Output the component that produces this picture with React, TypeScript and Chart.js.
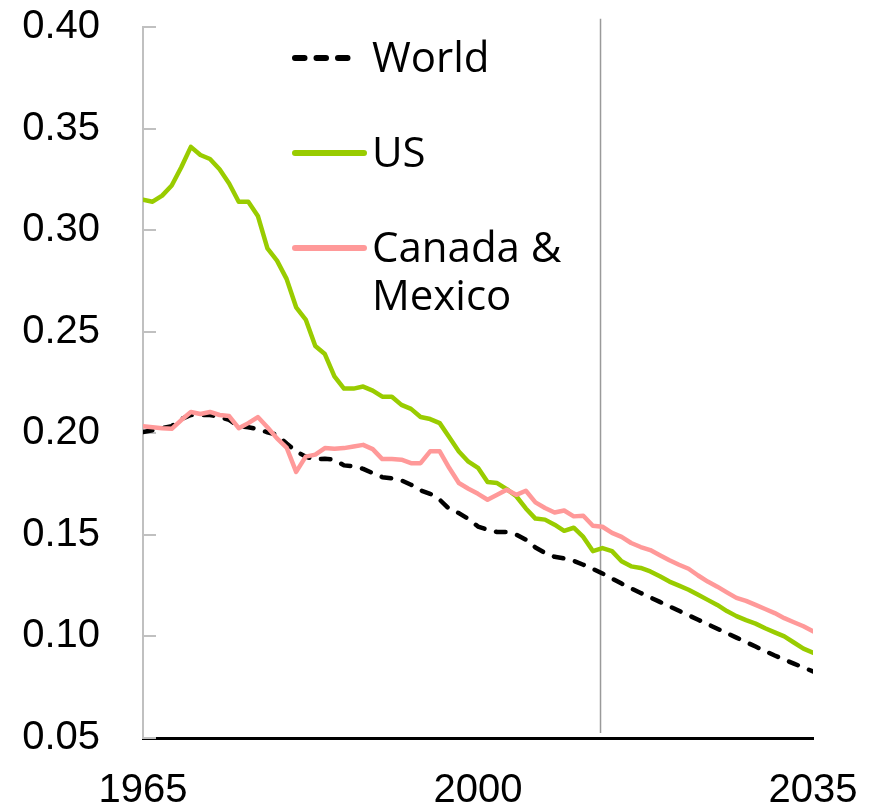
import React, { useEffect, useRef } from 'react';
import { Chart, registerables } from 'chart.js';

Chart.register(...registerables);

const YEARS = [
  1965, 1966, 1967, 1968, 1969, 1970, 1971, 1972, 1973, 1974,
  1975, 1976, 1977, 1978, 1979, 1980, 1981, 1982, 1983, 1984,
  1985, 1986, 1987, 1988, 1989, 1990, 1991, 1992, 1993, 1994,
  1995, 1996, 1997, 1998, 1999, 2000, 2001, 2002, 2003, 2004,
  2005, 2006, 2007, 2008, 2009, 2010, 2011, 2012, 2013, 2014,
  2015, 2016, 2017, 2018, 2019, 2020, 2021, 2022, 2023, 2024,
  2025, 2026, 2027, 2028, 2029, 2030, 2031, 2032, 2033, 2034, 2035,
];

const WORLD = [
  0.2006, 0.2015, 0.2025, 0.2035, 0.207, 0.209, 0.209, 0.209, 0.208, 0.2066,
  0.2034, 0.203, 0.2021, 0.2005, 0.1993, 0.195, 0.1911, 0.1885, 0.187, 0.1875,
  0.187, 0.1842, 0.1837, 0.1825, 0.1804, 0.1784, 0.1778, 0.1768, 0.1747, 0.1719,
  0.1702, 0.1673, 0.1627, 0.1607, 0.1578, 0.1541, 0.1525, 0.1514, 0.1514, 0.1501,
  0.1476, 0.1438, 0.1411, 0.1392, 0.1384, 0.1372, 0.1353, 0.1332, 0.131, 0.1285,
  0.126, 0.1236, 0.1214, 0.1192, 0.117, 0.1148, 0.1126, 0.1104, 0.1082, 0.106,
  0.1038, 0.1016, 0.0994, 0.0972, 0.095, 0.0928, 0.0906, 0.0886, 0.0866, 0.0847, 0.0828,
];

const US = [
  0.315, 0.314, 0.317, 0.322, 0.331, 0.341, 0.337, 0.335, 0.33, 0.323,
  0.314, 0.314, 0.307, 0.291, 0.285, 0.276, 0.262, 0.256, 0.243, 0.239,
  0.228, 0.222, 0.222, 0.223, 0.221, 0.218, 0.218, 0.214, 0.212, 0.208,
  0.207, 0.205, 0.198, 0.191, 0.186, 0.183, 0.176, 0.1755, 0.1725, 0.169,
  0.163, 0.158, 0.1575, 0.155, 0.152, 0.1535, 0.149, 0.142, 0.1435, 0.142,
  0.137, 0.1345, 0.1337, 0.132, 0.1296, 0.127, 0.125, 0.123, 0.1205, 0.118,
  0.1155, 0.1125, 0.11, 0.108, 0.1063, 0.104, 0.102, 0.1, 0.097, 0.094, 0.092,
];

const CANADA_MEXICO = [
  0.2035, 0.203, 0.2025, 0.2022, 0.2065, 0.2105, 0.2095, 0.2105, 0.209, 0.2085,
  0.2025, 0.205, 0.208, 0.203, 0.1975, 0.193, 0.181, 0.1885, 0.1895, 0.1927,
  0.1924, 0.1927, 0.1935, 0.1943, 0.1922, 0.1873, 0.1873, 0.187, 0.1853, 0.1853,
  0.1911, 0.1911, 0.1829, 0.1755, 0.1727, 0.1702, 0.1673, 0.1697, 0.1722, 0.1697,
  0.1717, 0.166, 0.1632, 0.161, 0.162, 0.1591, 0.1594, 0.1545, 0.154, 0.151,
  0.149, 0.146, 0.144, 0.1425, 0.14, 0.1375, 0.1353, 0.1333, 0.13, 0.127,
  0.1245, 0.1217, 0.119, 0.1175, 0.1155, 0.1135, 0.1115, 0.109, 0.107, 0.105, 0.1025,
];

const SERIES_LABELS = ['World', 'US', 'Canada &\nMexico'];
const X_TICKS = [1965, 2000, 2035];
const Y_TICKS = [0.05, 0.1, 0.15, 0.2, 0.25, 0.3, 0.35, 0.4];
const FORECAST_START = 2012.8;
const FORECAST_LINE_TOP = 0.404;
const FORECAST_LINE_BOTTOM = 0.0525;

const toPoints = (vals: number[]) => vals.map((v, i) => ({ x: YEARS[i], y: v }));

const innerTicksPlugin = {
  id: 'innerTicks',
  beforeDatasetsDraw(chart: any) {
    const { ctx, chartArea, scales } = chart;
    const y = scales.y;
    ctx.save();
    ctx.strokeStyle = '#c0c0c0';
    ctx.lineWidth = 2;
    Y_TICKS.forEach((v) => {
      const py = Math.round(y.getPixelForValue(v));
      ctx.beginPath();
      ctx.moveTo(chartArea.left, py);
      ctx.lineTo(chartArea.left + 13, py);
      ctx.stroke();
    });
    const px = scales.x.getPixelForValue(FORECAST_START);
    ctx.strokeStyle = '#9a9a9a';
    ctx.lineWidth = 1.5;
    ctx.beginPath();
    ctx.moveTo(px, y.getPixelForValue(FORECAST_LINE_TOP));
    ctx.lineTo(px, y.getPixelForValue(FORECAST_LINE_BOTTOM));
    ctx.stroke();
    ctx.restore();
  },
};

const legendPlugin = {
  id: 'customLegend',
  afterDraw(chart: any) {
    const { ctx } = chart;
    const rows = [
      { idx: 0, lineY: 58, x0: 295, x1: 351 },
      { idx: 1, lineY: 153, x0: 295, x1: 364 },
      { idx: 2, lineY: 248, x0: 295, x1: 364 },
    ];
    ctx.save();
    rows.forEach((r) => {
      const ds = chart.data.datasets[r.idx];
      ctx.strokeStyle = ds.borderColor;
      ctx.lineWidth = 6;
      ctx.lineCap = 'round';
      ctx.setLineDash(ds.borderDash || []);
      ctx.beginPath();
      ctx.moveTo(r.x0, r.lineY);
      ctx.lineTo(r.x1, r.lineY);
      ctx.stroke();
      ctx.setLineDash([]);
      ctx.fillStyle = '#000';
      ctx.font = '42px "Open Sans"';
      ctx.textAlign = 'left';
      ctx.textBaseline = 'alphabetic';
      const lines = String(ds.label).split('\n');
      lines.forEach((t, k) => {
        ctx.fillText(t, 372, r.lineY + 14 + k * 48);
      });
    });
    ctx.restore();
  },
};

export default function App() {
  const ref = useRef<HTMLCanvasElement | null>(null);

  useEffect(() => {
    if (!ref.current) return;
    const tickFont = { family: '"Liberation Sans", Arial, sans-serif', size: 40 };
    const chart = new Chart(ref.current, {
      type: 'line',
      data: {
        datasets: [
          {
            label: SERIES_LABELS[0],
            data: toPoints(WORLD),
            borderColor: '#000000',
            borderWidth: 4.5,
            borderDash: [9.5, 12],
            borderCapStyle: 'round',
            borderJoinStyle: 'round',
            pointRadius: 0,
            tension: 0,
            order: 2,
          },
          {
            label: SERIES_LABELS[1],
            data: toPoints(US),
            borderColor: '#99cc00',
            borderWidth: 4.5,
            borderCapStyle: 'round',
            borderJoinStyle: 'round',
            pointRadius: 0,
            tension: 0,
            order: 1,
          },
          {
            label: SERIES_LABELS[2],
            data: toPoints(CANADA_MEXICO),
            borderColor: '#ff9999',
            borderWidth: 4.5,
            borderCapStyle: 'round',
            borderJoinStyle: 'round',
            pointRadius: 0,
            tension: 0,
            order: 0,
          },
        ],
      },
      options: {
        animation: false,
        responsive: false,
        maintainAspectRatio: false,
        layout: { padding: { top: 27, right: 62, bottom: 0, left: 0 } },
        plugins: {
          legend: { display: false },
          tooltip: { enabled: false },
        },
        scales: {
          x: {
            type: 'linear',
            min: 1965,
            max: 2035,
            grid: {
              display: true,
              drawOnChartArea: false,
              drawTicks: true,
              tickLength: 29,
              tickColor: 'rgba(0,0,0,0)',
              color: 'rgba(0,0,0,0)',
            },
            border: { display: true, color: '#000000', width: 3 },
            afterBuildTicks: (s: any) => {
              s.ticks = X_TICKS.map((v) => ({ value: v }));
            },
            afterFit: (s: any) => {
              s.height = 74;
            },
            ticks: {
              autoSkip: false,
              maxRotation: 0,
              padding: 0,
              color: '#000000',
              font: tickFont,
              callback: (v: any) => String(v),
            },
          },
          y: {
            type: 'linear',
            min: 0.05,
            max: 0.4,
            grid: {
              display: true,
              drawOnChartArea: false,
              drawTicks: true,
              tickLength: 43,
              tickColor: 'rgba(0,0,0,0)',
              color: 'rgba(0,0,0,0)',
            },
            border: { display: true, color: '#c0c0c0', width: 2 },
            afterBuildTicks: (s: any) => {
              s.ticks = Y_TICKS.map((v) => ({ value: v }));
            },
            afterFit: (s: any) => {
              s.width = 143;
            },
            ticks: {
              padding: 0,
              color: '#000000',
              font: tickFont,
              callback: (v: any) => Number(v).toFixed(2),
            },
          },
        },
      },
      plugins: [innerTicksPlugin, legendPlugin],
    } as any);
    return () => chart.destroy();
  }, []);

  return (
    <div style={{ position: 'absolute', left: 0, top: 0, width: 875, height: 812, background: '#fff' }}>
      <canvas ref={ref} width={875} height={812} style={{ display: 'block' }} />
    </div>
  );
}
